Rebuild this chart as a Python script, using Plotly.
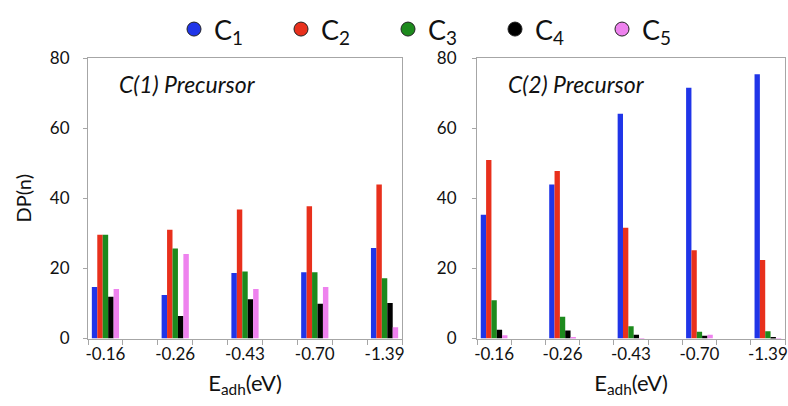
import plotly.graph_objects as go

# Adhesion energies (category labels) and degree-of-polymerisation values
energies = ["-0.16", "-0.26", "-0.43", "-0.70", "-1.39"]
species = ["C<sub>1</sub>", "C<sub>2</sub>", "C<sub>3</sub>", "C<sub>4</sub>", "C<sub>5</sub>"]
colors = ["#2035e8", "#e8301c", "#1d8a1d", "#000000", "#ee82ee"]

# C(1) precursor
c1_C1 = [14.7, 12.4, 18.7, 18.9, 25.8]
c1_C2 = [29.6, 31.0, 36.8, 37.7, 43.9]
c1_C3 = [29.6, 25.7, 19.1, 18.9, 17.2]
c1_C4 = [11.9, 6.4, 11.2, 9.9, 10.1]
c1_C5 = [14.1, 24.1, 14.1, 14.7, 3.2]

# C(2) precursor
c2_C1 = [35.3, 43.9, 64.1, 71.5, 75.4]
c2_C2 = [50.9, 47.8, 31.6, 25.2, 22.4]
c2_C3 = [10.9, 6.2, 3.5, 1.9, 2.1]
c2_C4 = [2.5, 2.3, 1.1, 0.8, 0.2]
c2_C5 = [0.9, 0.2, 0.1, 1.1, 0.1]

left = [c1_C1, c1_C2, c1_C3, c1_C4, c1_C5]
right = [c2_C1, c2_C2, c2_C3, c2_C4, c2_C5]

# categories sit on every other slot, with an empty slot between groups
xpos = [2 * i for i in range(len(energies))]
bar_w = 0.156

fig = go.Figure()
for panel, (data, xa, ya) in enumerate([(left, "x", "y"), (right, "x2", "y2")]):
    for k, vals in enumerate(data):
        fig.add_trace(go.Bar(
            x=xpos, y=vals, xaxis=xa, yaxis=ya,
            width=bar_w, offset=-2.5 * bar_w + k * bar_w,
            marker=dict(color=colors[k], line=dict(width=0)),
            showlegend=False,
        ))

# legend entries with circular markers
for k, name in enumerate(species):
    fig.add_trace(go.Scatter(
        x=[None], y=[None], mode="markers", name=name,
        marker=dict(symbol="circle", size=14, color=colors[k],
                    line=dict(color="#222222", width=1)),
    ))

font_family = "Lato, 'Open Sans', sans-serif"
axis_gray = "#a6a6a6"
ink = "#111111"

xcommon = dict(
    range=[-0.5, 8.5], tickmode="array", tickvals=xpos, ticktext=energies,
    ticks="", showline=True, linecolor=axis_gray, linewidth=1, mirror=True,
    showgrid=False, zeroline=False, automargin=False,
    tickfont=dict(size=17, color=ink, family=font_family),
    minor=dict(tickmode="linear", tick0=-0.5, dtick=1, ticks="outside",
               ticklen=5, tickcolor=axis_gray, tickwidth=1, showgrid=False),
    title=dict(text="E<sub>adh</sub>(eV)", font=dict(size=22, family=font_family, color=ink),
               standoff=12),
)
ycommon = dict(
    range=[0, 80], tickmode="array", tickvals=[0, 20, 40, 60, 80],
    ticks="outside", ticklen=4, tickcolor=axis_gray, tickwidth=1,
    showline=True, linecolor=axis_gray, linewidth=1, mirror=True,
    showgrid=False, zeroline=False, automargin=False,
    tickfont=dict(size=17, color=ink, family=font_family),
)

ydom = [1 - 338.5 / 406, 1 - 58 / 406]

fig.update_layout(
    width=788, height=406,
    margin=dict(l=0, r=0, t=0, b=0),
    paper_bgcolor="white", plot_bgcolor="white",
    barmode="overlay",
    font=dict(family=font_family, color=ink),
    xaxis=dict(domain=[88 / 788, 402 / 788], anchor="y", **xcommon),
    yaxis=dict(domain=ydom, anchor="x", ticklabelstandoff=10,
               title=dict(text="DP(n)", font=dict(size=20, family=font_family, color=ink),
                          standoff=12),
               **ycommon),
    xaxis2=dict(domain=[477 / 788, 785 / 788], anchor="y2", **xcommon),
    yaxis2=dict(domain=ydom, anchor="x2", ticklabelstandoff=12, **ycommon),
    legend=dict(orientation="h", x=174 / 788, y=1 - 5 / 406, xanchor="left", yanchor="top",
                entrywidth=62, entrywidthmode="pixels",
                font=dict(size=27, family=font_family, color=ink),
                bgcolor="rgba(0,0,0,0)"),
    annotations=[
        dict(text="<i>C(1) Precursor</i>", x=117 / 788, y=1 - 84 / 406, xref="paper", yref="paper",
             xanchor="left", yanchor="middle", showarrow=False,
             font=dict(size=23, family=font_family, color=ink)),
        dict(text="<i>C(2) Precursor</i>", x=506 / 788, y=1 - 84 / 406, xref="paper", yref="paper",
             xanchor="left", yanchor="middle", showarrow=False,
             font=dict(size=23, family=font_family, color=ink)),
    ],
)

fig.write_html("out.html")
